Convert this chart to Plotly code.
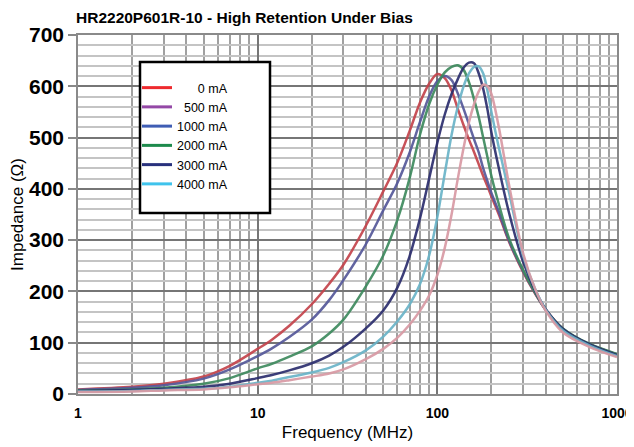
import plotly.graph_objects as go

# ---- data ----
freq_mhz = [1, 2, 3, 5, 7, 10, 12, 15, 20, 25, 30, 40, 50, 60, 70, 80, 90, 100, 110, 120,
            130, 140, 150, 160, 170, 180, 190, 200, 220, 250, 300, 350, 400, 500, 700, 1000]

z_red = [9, 14, 20, 34, 55, 88, 106, 133, 175, 215, 252, 328, 395, 452, 512, 568, 605, 624, 616, 592,
         556, 524, 496, 472, 448, 425, 405, 385, 350, 298, 238, 196, 165, 127, 97, 77]
z_slate = [8, 12, 17, 30, 48, 74, 89, 111, 145, 183, 222, 292, 358, 412, 470, 530, 580, 610, 620, 612,
           586, 556, 526, 497, 471, 440, 415, 392, 355, 300, 240, 197, 165, 127, 97, 77]
z_green = [7, 9, 12, 20, 31, 50, 59, 73, 93, 118, 145, 210, 270, 340, 420, 505, 565, 603, 627, 638,
           641, 632, 608, 575, 540, 500, 462, 425, 370, 305, 242, 198, 165, 128, 98, 78]
z_navy = [6, 8, 10, 14, 20, 31, 37, 46, 60, 75, 92, 128, 163, 208, 268, 342, 420, 490, 545, 585,
          614, 636, 646, 645, 625, 595, 555, 510, 440, 355, 258, 202, 166, 127, 97, 76]
z_cyan = [5, 6, 8, 10, 14, 22, 26, 33, 42, 51, 62, 85, 112, 142, 174, 214, 270, 345, 430, 505,
          560, 600, 625, 638, 639, 625, 592, 550, 480, 395, 270, 205, 165, 124, 95, 74]
z_pink = [4, 5, 7, 9, 13, 19, 22, 27, 34, 40, 48, 68, 88, 110, 135, 162, 192, 232, 285, 350,
          420, 480, 530, 565, 590, 603, 600, 585, 520, 410, 275, 205, 163, 120, 92, 72]

curve_names = ["0 mA", "500 mA", "2000 mA", "3000 mA", "4000 mA", "1000 mA"]
curve_values = [z_red, z_slate, z_green, z_navy, z_cyan, z_pink]
curve_colors = ["#c4444c", "#55589a", "#3e8a5e", "#2c2e6e", "#6ab4c8", "#d99aa4"]

legend_labels = ["\u2007\u2007\u20070 mA", "\u2007500 mA", "1000 mA", "2000 mA", "3000 mA", "4000 mA"]
legend_colors = ["#ee2a2e", "#9448a6", "#3f5db4", "#1d8a4c", "#28317c", "#3fc3ec"]

x_ticks = [1, 10, 100, 1000]
x_minor = [2, 3, 4, 5, 6, 7, 8, 9, 20, 30, 40, 50, 60, 70, 80, 90, 200, 300, 400, 500, 600, 700, 800, 900]

# ---- figure ----
fig = go.Figure()
for name, vals, col in zip(curve_names, curve_values, curve_colors):
    fig.add_trace(go.Scatter(x=freq_mhz, y=vals, mode="lines", name=name, showlegend=False,
                             line=dict(color=col, width=2.5, shape="spline", smoothing=0.9),
                             opacity=0.92))
for lab, col in zip(legend_labels, legend_colors):
    fig.add_trace(go.Scatter(x=[None], y=[None], mode="lines", name=lab,
                             line=dict(color=col, width=3)))

# page body has an 8px margin, so the figure is drawn at (8, 8) in the window
OFF = 8
W, H = 626, 439
L, T, B = 70, 27, 53
pw, ph = 539, 359
R = W - L - pw

def px(xs):
    return (xs - OFF - L) / pw

def py(ys):
    return (H - B - (ys - OFF)) / ph

fig.add_shape(type="rect", xref="paper", yref="paper",
              x0=px(140), x1=px(270), y0=py(213), y1=py(62),
              line=dict(color="black", width=2.5), fillcolor="white", layer="above")

fig.update_layout(
    width=W, height=H, autosize=False,
    margin=dict(l=L, r=R, t=T, b=B, autoexpand=False),
    paper_bgcolor="white", plot_bgcolor="white",
    title=dict(text="HR2220P601R-10 - High Retention Under Bias",
               font=dict(family="Liberation Sans, Arial", size=15.5,
                         color="black", weight="bold"),
               x=(76 - OFF) / W, xanchor="left", xref="container",
               y=1 - (18 - OFF) / H, yanchor="middle", yref="container"),
    legend=dict(x=px(137), y=py(73), xanchor="left", yanchor="top",
                bgcolor="rgba(0,0,0,0)", borderwidth=0,
                font=dict(family="Liberation Sans, Arial", size=12.5, color="black")),
    showlegend=True,
)

fig.update_xaxes(type="log", range=[0, 3], automargin=False,
                 tickvals=x_ticks, ticktext=[str(v) for v in x_ticks],
                 tickfont=dict(family="Liberation Sans, Arial", size=14, color="black", weight="bold"),
                 showgrid=True, gridcolor="#767676", gridwidth=2,
                 minor=dict(tickvals=x_minor, showgrid=True, gridcolor="#a0a0a0", gridwidth=1.5, ticks=""),
                 showline=True, linecolor="#8a8a8a", linewidth=1.5, mirror=True,
                 zeroline=False, ticks="outside", ticklen=5, tickcolor="rgba(0,0,0,0)",
                 title=dict(text="Frequency (MHz)", standoff=7,
                            font=dict(family="Liberation Sans, Arial", size=17, color="black")))

fig.update_yaxes(range=[0, 700], tickmode="linear", tick0=0, dtick=100, automargin=False,
                 tickfont=dict(family="Liberation Sans, Arial", size=21, color="black", weight="bold"),
                 showgrid=True, gridcolor="#767676", gridwidth=2,
                 minor=dict(dtick=20, tick0=0, showgrid=True, gridcolor="#c4c4c4", gridwidth=1.5, ticks=""),
                 showline=True, linecolor="#8a8a8a", linewidth=1.5, mirror=True,
                 zeroline=False, ticks="outside", ticklen=8, tickcolor="#888888", tickwidth=1.5,
                 title=dict(text="Impedance (\u03a9)", standoff=4,
                            font=dict(family="Liberation Sans, Arial", size=17, color="black")))

fig.write_html("out.html")
